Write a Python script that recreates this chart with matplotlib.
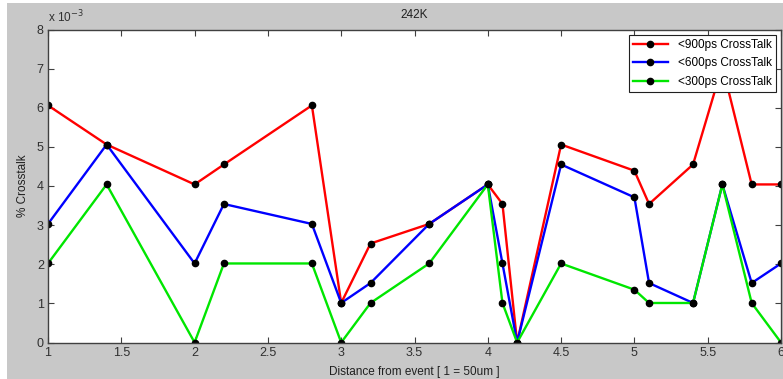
import matplotlib
matplotlib.use("Agg")
import matplotlib.pyplot as plt
from matplotlib.patches import Rectangle

plt.rcParams['font.family'] = ['Liberation Sans', 'DejaVu Sans']

# distance from event (1 = 50um)
x = [1, 1.4, 2, 2.2, 2.8, 3, 3.2, 3.6, 4, 4.1, 4.2, 4.5, 5, 5.1, 5.4, 5.6, 5.8, 6]

# crosstalk in units of 1e-3 %
ct_900 = [6.06, 5.06, 4.04, 4.55, 6.06, 1.01, 2.53, 3.03, 4.04, 3.54, 0.0,
          5.06, 4.39, 3.54, 4.55, 7.07, 4.04, 4.04]
ct_600 = [3.03, 5.06, 2.02, 3.54, 3.03, 1.01, 1.52, 3.03, 4.04, 2.02, 0.0,
          4.55, 3.71, 1.52, 1.01, 4.04, 1.52, 2.02]
ct_300 = [2.02, 4.04, 0.0, 2.02, 2.02, 0.0, 1.01, 2.02, 4.04, 1.01, 0.0,
          2.02, 1.35, 1.01, 1.01, 4.04, 1.01, 0.0]

labels = ['<900ps CrossTalk', '<600ps CrossTalk', '<300ps CrossTalk']
colors = ['#ff0000', '#0000ff', '#00e600']

fig = plt.figure(figsize=(7.83, 3.79), dpi=100)
fig.patch.set_facecolor('white')
# gray window background
fig.patches.append(Rectangle((7 / 783, 0), 1, 1 - 3 / 379, transform=fig.transFigure,
                             facecolor='#c8c8c8', edgecolor='none', zorder=-10))

ax = fig.add_axes([48 / 783, 36.5 / 379, 733 / 783, 313 / 379])
for y, lab, c in zip([ct_900, ct_600, ct_300], labels, colors):
    ax.plot(x, y, color=c, lw=1.7, marker='o', ms=4.5, mfc='black', mec='black', label=lab)

ax.set_xlim(1, 6)
ax.set_ylim(0, 8)
ax.set_xticks([1, 1.5, 2, 2.5, 3, 3.5, 4, 4.5, 5, 5.5, 6])
ax.set_xticklabels(['1', '1.5', '2', '2.5', '3', '3.5', '4', '4.5', '5', '5.5', '6'])
ax.set_yticks(range(0, 9))
ax.tick_params(direction='in', top=True, right=True, length=4, labelsize=9,
               colors='#404040', labelcolor='#303030', pad=3)
for s in ax.spines.values():
    s.set_color('#404040')
    s.set_linewidth(1.0)

ax.set_title('242K', fontsize=8.5, color='#202020', pad=8)
ax.set_xlabel('Distance from event [ 1 = 50um ]', fontsize=8.5, color='#202020', labelpad=5)
ax.set_ylabel('% Crosstalk', fontsize=8.5, color='#202020', labelpad=6)
ax.text(0.0, 1.015, r'x 10$^{-3}$', transform=ax.transAxes, fontsize=8.5,
        color='#303030', ha='left', va='bottom')

leg = ax.legend(loc='upper right', fontsize=8.5, frameon=True, fancybox=False,
                framealpha=1, borderaxespad=0.45, borderpad=0.35,
                handlelength=3, labelspacing=0.55)
leg.get_frame().set_edgecolor('#202020')
leg.get_frame().set_linewidth(0.8)

fig.savefig('out.png', dpi=100)
